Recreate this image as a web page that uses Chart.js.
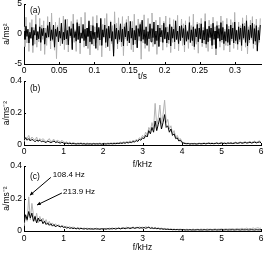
<!DOCTYPE html>
<html>
<head>
<meta charset="utf-8">
<script src="https://cdn.jsdelivr.net/npm/chart.js@4.4.1/dist/chart.umd.min.js"></script>
<style>
  html, body { margin: 0; padding: 0; background: #fff; }
  #wrap { position: relative; width: 266px; height: 253px; }
  #wrap canvas { position: absolute; left: 0; top: 0; }
</style>
</head>
<body>
<div id="wrap">
  <canvas id="chartA" width="266" height="253"></canvas>
  <canvas id="chartB" width="266" height="253"></canvas>
  <canvas id="chartC" width="266" height="253"></canvas>
</div>
<script>
// ---------------------------------------------------------
// Data
// ---------------------------------------------------------
const timeStep = 0.0014;  // s between samples, panel (a)
const freqStep = 0.04;    // kHz between bins, panels (b) and (c)

// (a) acceleration time signal, a/ms^-2
const accelGray = [
  1.2,-2.1,2.8,-1.5,0.6,-2.9,1.9,-0.8,2.4,-3.1,1.1,-1.7,3.2,-2.2,0.4,-1.3,2.6,-2.8,1.5,-0.9,
  2.2,-3.4,1.0,-1.9,2.9,-0.7,1.6,-2.5,3.5,-1.2,0.8,-2.7,2.0,-4.1,1.4,-0.5,2.7,-2.0,1.8,-1.1,
  3.0,-2.6,0.9,-1.8,2.5,-3.0,1.3,-0.6,2.1,-2.3,3.3,-1.4,0.7,-2.9,2.4,-1.0,1.7,-3.3,2.8,-0.8,
  1.1,-2.2,3.6,-1.6,0.5,-2.4,2.0,-3.5,1.5,-0.9,2.9,-2.0,1.2,-1.5,3.1,-2.7,0.8,-1.9,2.3,-3.8,
  1.6,-0.7,2.6,-2.3,3.4,-1.1,0.9,-2.8,2.2,-1.6,1.4,-3.2,3.7,-0.9,1.8,-2.5,2.7,-1.3,0.6,-2.1,
  2.9,-3.6,1.7,-0.8,2.4,-2.0,3.0,-1.4,1.1,-2.6,2.1,-3.0,3.3,-1.7,0.7,-2.2,2.5,-1.1,1.9,-4.2,
  2.0,-1.5,3.2,-2.4,0.9,-1.8,2.6,-2.9,1.4,-0.6,3.5,-2.1,1.6,-1.2,2.3,-3.4,1.0,-2.0,2.8,-1.3,
  1.5,-2.7,2.1,-0.9,3.0,-2.2,1.2,-1.6,2.7,-3.1,0.8,-1.4,2.4,-2.5,1.9,-1.0,3.1,-2.8,1.3,-0.7,
  2.5,-1.9,1.7,-3.0,2.2,-1.2,0.6,-2.4,2.9,-1.5,1.4,-2.0,3.3,-2.6,1.0,-1.7,2.0,-3.2,1.8,-0.9,
  2.6,-2.1,1.1,-1.6,3.4,-2.3,0.9,-2.9,2.3,-1.1,1.6,-2.5,2.8,-1.8,1.2,-3.5,2.1,-0.8,1.5,-2.2,
  3.0,-1.4,2.2,-2.7,0.8,-1.9,2.6,-2.0,1.3,-3.0,2.4,-1.2,1.9,-2.4,3.6,-1.6,0.7,-2.6,2.0,-1.3,
  1.4,-2.8,2.7,-1.0,1.8,-2.2,3.1,-3.3,1.2,-1.5,2.3,-0.9,2.9,-2.4,1.6,-1.8,2.5,-2.9,1.1,-1.4,
  2.6
];
const accelBlack = [
  0.5,-0.9,1.3,-0.4,0.8,-1.5,0.3,-0.7,1.1,-1.9,0.6,-0.2,1.6,-1.0,0.4,-0.8,1.2,-1.4,0.9,-0.3,
  1.0,-1.7,0.2,-0.6,1.4,-0.5,2.0,-1.1,0.7,-0.9,1.5,-2.2,0.8,-0.4,1.1,-1.3,0.5,-0.7,1.8,-1.6,
  0.3,-1.0,2.4,-0.8,0.6,-1.8,1.2,-0.3,0.9,-2.6,1.7,-0.6,0.4,-1.2,1.9,-0.9,1.3,-1.5,0.2,-0.7,
  1.6,-1.1,0.8,-2.0,1.0,-0.4,2.2,-1.3,0.5,-1.7,1.4,-0.8,0.3,-2.4,1.8,-0.6,1.1,-1.0,2.6,-1.9,
  0.7,-0.5,1.5,-1.4,0.9,-2.1,1.3,-0.7,2.0,-1.2,0.4,-3.7,1.6,-0.8,1.0,-1.6,0.6,-0.9,1.7,-1.3,
  0.8,-2.0,1.2,-0.5,1.9,-1.1,0.5,-1.5,2.1,-0.7,1.0,-1.8,0.6,-1.0,1.4,-2.3,0.9,-0.4,1.6,-1.2,
  2.3,-0.9,0.7,-1.6,1.2,-1.9,0.4,-0.8,1.7,-1.3,0.9,-0.6,2.0,-1.7,0.5,-1.1,1.5,-2.1,1.0,-0.5,
  0.6,-1.4,1.8,-0.8,1.1,-1.5,0.3,-1.0,1.6,-2.0,1.2,-0.7,0.8,-1.3,2.2,-0.9,0.5,-1.6,1.3,-1.1,
  1.4,-0.6,0.9,-1.8,1.5,-1.2,0.4,-0.9,1.9,-1.4,0.7,-1.1,1.2,-2.1,0.8,-0.5,1.6,-1.3,1.0,-0.8,
  1.7,-1.5,0.6,-1.0,2.1,-1.7,0.8,-1.3,1.3,-0.6,1.0,-1.9,1.8,-0.9,0.5,-2.4,1.4,-0.7,0.9,-1.2,
  1.9,-1.0,1.1,-1.6,0.4,-1.2,1.6,-1.4,0.8,-1.8,1.5,-0.8,1.0,-1.5,2.0,-1.1,0.6,-1.7,1.2,-0.9,
  1.0,-1.9,1.7,-0.7,1.3,-1.4,2.2,-2.0,0.7,-1.0,1.5,-0.6,1.8,-1.6,0.9,-1.2,1.4,-2.8,0.6,-1.0,
  1.5
];

// (b) amplitude spectrum, 0..6 kHz
const specBGray = [
  0.02,0.05,0.04,0.06,0.03,0.05,0.04,0.03,0.05,0.02,0.04,0.03,0.04,
  0.03,0.02,0.03,0.04,0.02,0.03,0.035,0.02,0.03,0.025,0.02,0.03,0.02,
  0.015,0.02,0.012,0.018,0.01,0.015,0.012,0.008,0.012,0.01,0.014,0.009,0.011,0.008,0.012,0.009,0.01,0.007,0.011,0.008,0.01,0.009,0.012,0.008,0.01,
  0.011,0.009,0.012,0.01,0.013,0.011,0.014,0.012,0.015,0.013,0.018,0.014,0.02,0.016,0.022,0.018,0.025,0.02,0.03,0.024,
  0.035,0.028,0.045,0.04,0.06,
  0.05,0.08,0.06,0.11,0.09,0.14,0.1,0.26,0.12,0.17,0.25,0.13,0.19,0.28,0.14,0.16,0.1,0.12,0.07,0.09,0.05,0.06,0.035,0.04,0.02,
  0.015,0.012,0.01,0.011,0.008,0.01,0.009,0.011,0.008,0.01,
  0.012,0.009,0.011,0.013,0.01,0.012,0.014,0.011,0.013,0.01,
  0.012,0.015,0.011,0.013,0.016,0.012,0.014,0.011,0.015,0.013,
  0.016,0.012,0.014,0.018,0.013,0.016,0.019,0.014,0.017,0.021,
  0.015,0.018,0.022,0.016,0.02,0.024,0.017,0.021,0.026,0.019
];
const specBBlack = [
  0.03,0.045,0.03,0.04,0.025,0.035,0.03,0.02,0.03,0.025,0.03,0.02,0.025,
  0.02,0.015,0.025,0.02,0.015,0.02,0.025,0.015,0.02,0.015,0.012,0.018,0.012,
  0.01,0.012,0.008,0.011,0.007,0.009,0.008,0.006,0.008,0.007,0.009,0.006,0.008,0.005,0.007,0.006,0.007,0.005,0.008,0.006,0.007,0.006,0.008,0.005,0.007,
  0.007,0.006,0.008,0.007,0.009,0.007,0.009,0.008,0.01,0.009,0.012,0.01,0.014,0.011,0.016,0.013,0.018,0.015,0.022,0.018,
  0.028,0.022,0.035,0.03,0.045,
  0.04,0.06,0.05,0.09,0.07,0.11,0.08,0.15,0.09,0.13,0.17,0.1,0.14,0.19,0.11,0.12,0.08,0.1,0.06,0.07,0.04,0.045,0.025,0.03,0.015,
  0.012,0.009,0.008,0.009,0.006,0.008,0.007,0.008,0.006,0.007,
  0.009,0.007,0.008,0.01,0.007,0.009,0.011,0.008,0.01,0.008,
  0.009,0.012,0.008,0.01,0.012,0.009,0.011,0.008,0.012,0.01,
  0.012,0.009,0.011,0.014,0.01,0.012,0.015,0.011,0.013,0.016,
  0.012,0.014,0.017,0.012,0.015,0.018,0.013,0.016,0.019,0.014
];

// (c) amplitude spectrum, 0..6 kHz (tall gray lines at 108.4 Hz and 213.9 Hz)
const specCGray = [
  0.03,0.09,0.06,0.21,0.07,0.17,0.1,0.06,0.11,0.05,0.09,0.06,0.08,
  0.05,0.07,0.04,0.06,0.035,0.05,0.03,0.045,0.03,0.04,0.025,0.035,0.03,
  0.025,0.03,0.02,0.028,0.018,0.025,0.02,0.015,0.022,0.017,0.02,0.014,0.019,0.015,0.018,0.013,0.017,0.012,0.016,0.014,0.018,0.012,0.016,0.013,0.015,
  0.014,0.017,0.012,0.018,0.015,0.02,0.013,0.019,0.016,0.021,0.015,0.022,0.017,0.02,0.024,0.018,0.022,0.019,0.025,0.02,0.023,0.018,0.026,0.021,0.024,
  0.02,0.027,0.022,0.025,0.019,0.024,0.018,0.022,0.016,0.02,0.015,0.018,0.013,0.016,0.012,0.014,0.011,0.013,0.01,0.012,0.009,0.011,0.01,0.012,0.009,
  0.01,0.008,0.011,0.009,0.01,0.008,0.012,0.009,0.01,0.011,
  0.009,0.012,0.01,0.011,0.009,0.013,0.01,0.012,0.009,0.011,
  0.013,0.01,0.012,0.011,0.014,0.01,0.012,0.013,0.011,0.014,
  0.012,0.015,0.011,0.013,0.016,0.012,0.014,0.017,0.013,0.015,
  0.018,0.013,0.016,0.014,0.019,0.015,0.017,0.02,0.016,0.018
];
const specCBlack = [
  0.05,0.1,0.07,0.12,0.08,0.11,0.06,0.09,0.05,0.08,0.06,0.07,0.045,
  0.06,0.04,0.05,0.035,0.045,0.03,0.04,0.025,0.035,0.03,0.025,0.03,0.022,
  0.025,0.018,0.022,0.016,0.02,0.015,0.018,0.013,0.017,0.012,0.016,0.014,0.012,0.015,0.011,0.014,0.012,0.013,0.011,0.014,0.012,0.013,0.01,0.014,0.012,
  0.013,0.011,0.015,0.012,0.014,0.013,0.016,0.012,0.015,0.017,0.013,0.016,0.018,0.014,0.017,0.02,0.015,0.018,0.021,0.016,0.019,0.022,0.017,0.02,0.018,
  0.021,0.017,0.02,0.023,0.016,0.019,0.015,0.018,0.014,0.016,0.012,0.014,0.011,0.012,0.01,0.011,0.009,0.01,0.008,0.009,0.008,0.009,0.007,0.008,0.007,
  0.008,0.006,0.007,0.006,0.008,0.006,0.007,0.006,0.007,0.008,
  0.006,0.007,0.006,0.008,0.007,0.006,0.007,0.008,0.006,0.007,
  0.008,0.006,0.007,0.007,0.008,0.006,0.007,0.008,0.006,0.007,
  0.007,0.008,0.006,0.007,0.008,0.007,0.006,0.008,0.007,0.007,
  0.008,0.006,0.007,0.008,0.007,0.006,0.008,0.007,0.007,0.008
];

// tick labels
const timeTicks = [0, 0.05, 0.1, 0.15, 0.2, 0.25, 0.3];
const freqTicks = [0, 1, 2, 3, 4, 5, 6];
const accelTicks = [-5, 0, 5];
const specTicks = [0, 0.2, 0.4];

const peakLabels = ["108.4 Hz", "213.9 Hz"];

// ---------------------------------------------------------
// Styling helpers
// ---------------------------------------------------------
const FONT = "'Liberation Sans', Arial, Helvetica, sans-serif";
const GRAY = "#b2b2b2";
const tickFont = { family: FONT, size: 8.5 };

const toXY = (vals, step) => vals.map((v, i) => ({ x: i * step, y: v }));
const fmt = v => String(+Number(v).toFixed(2));

// inward ticks, panel letter and (optional) arrows
function overlay(cfg) {
  return {
    id: "overlay",
    afterDraw(chart) {
      const { ctx, chartArea: a, scales: { x, y } } = chart;
      ctx.save();
      ctx.strokeStyle = "#000";
      ctx.fillStyle = "#000";
      ctx.lineWidth = 1;

      ctx.beginPath();
      cfg.xTicks.forEach(v => {
        const px = Math.round(x.getPixelForValue(v)) + 0.5;
        ctx.moveTo(px, a.bottom);
        ctx.lineTo(px, a.bottom - 2);
      });
      cfg.yTicks.forEach(v => {
        const py = Math.round(y.getPixelForValue(v)) + 0.5;
        ctx.moveTo(a.left, py);
        ctx.lineTo(a.left + 2, py);
      });
      ctx.stroke();

      ctx.font = "8.5px " + FONT;
      ctx.textBaseline = "middle";
      ctx.textAlign = "left";
      ctx.fillText(cfg.letter, a.left + 6, a.top + cfg.letterDy);

      ctx.font = "8px " + FONT;
      (cfg.arrows || []).forEach(ar => {
        const x0 = x.getPixelForValue(ar.from[0]), y0 = y.getPixelForValue(ar.from[1]);
        const x1 = x.getPixelForValue(ar.to[0]), y1 = y.getPixelForValue(ar.to[1]);
        ctx.beginPath();
        ctx.moveTo(x0, y0);
        ctx.lineTo(x1, y1);
        ctx.stroke();
        const ang = Math.atan2(y1 - y0, x1 - x0);
        ctx.beginPath();
        ctx.moveTo(x1, y1);
        ctx.lineTo(x1 - 4 * Math.cos(ang - 0.45), y1 - 4 * Math.sin(ang - 0.45));
        ctx.lineTo(x1 - 4 * Math.cos(ang + 0.45), y1 - 4 * Math.sin(ang + 0.45));
        ctx.closePath();
        ctx.fill();
        ctx.fillText(ar.text, x.getPixelForValue(ar.label[0]), y.getPixelForValue(ar.label[1]));
      });
      ctx.restore();
    }
  };
}

function drawPanel(id, cfg) {
  return new Chart(document.getElementById(id), {
    type: "line",
    data: {
      datasets: [
        { data: toXY(cfg.black, cfg.step), borderColor: "#000", borderWidth: 1, pointRadius: 0 },
        { data: toXY(cfg.gray, cfg.step), borderColor: GRAY, borderWidth: 1, pointRadius: 0 }
      ]
    },
    options: {
      responsive: false,
      animation: false,
      events: [],
      devicePixelRatio: 1,
      layout: { padding: { left: 0, right: 5, top: cfg.top, bottom: 253 - cfg.bottom - cfg.xH } },
      plugins: { legend: { display: false }, tooltip: { enabled: false } },
      scales: {
        x: {
          type: "linear", min: 0, max: cfg.xMax,
          afterBuildTicks: s => { s.ticks = cfg.xTicks.map(v => ({ value: v })); },
          afterFit: s => { s.height = cfg.xH; s.paddingLeft = 0; s.paddingRight = 0; },
          ticks: { font: tickFont, color: "#000", padding: cfg.xPad, maxRotation: 0, autoSkip: false, callback: fmt },
          grid: { display: false, drawTicks: false },
          border: { display: true, color: "#000", width: 1 },
          title: { display: true, text: cfg.xTitle, font: tickFont, color: "#000", padding: 0 }
        },
        y: {
          type: "linear", min: cfg.yMin, max: cfg.yMax,
          afterBuildTicks: s => { s.ticks = cfg.yTicks.map(v => ({ value: v })); },
          afterFit: s => { s.width = 24; s.paddingTop = 0; s.paddingBottom = 0; },
          ticks: { font: tickFont, color: "#000", padding: 2, callback: fmt },
          grid: { display: false, drawTicks: false },
          border: { display: true, color: "#000", width: 1 },
          title: { display: true, text: cfg.yTitle, font: tickFont, color: "#000", padding: { top: 2, bottom: 0 } }
        }
      }
    },
    plugins: [overlay(cfg)]
  });
}

// ---------------------------------------------------------
// Panels
// ---------------------------------------------------------
drawPanel("chartA", {
  gray: accelGray, black: accelBlack, step: timeStep,
  xMax: 0.337, xTicks: timeTicks, yMin: -5, yMax: 5, yTicks: accelTicks,
  xTitle: "t/s", yTitle: "a/ms\u00B2", top: 4, bottom: 64, xH: 18, xPad: 2,
  letter: "(a)", letterDy: 7
});

drawPanel("chartB", {
  gray: specBGray, black: specBBlack, step: freqStep,
  xMax: 6, xTicks: freqTicks, yMin: 0, yMax: 0.4, yTicks: specTicks,
  xTitle: "f/kHz", yTitle: "a/ms\u207B\u00B2", top: 81, bottom: 145, xH: 25, xPad: 2,
  letter: "(b)", letterDy: 8
});

drawPanel("chartC", {
  gray: specCGray, black: specCBlack, step: freqStep,
  xMax: 6, xTicks: freqTicks, yMin: 0, yMax: 0.4, yTicks: specTicks,
  xTitle: "f/kHz", yTitle: "a/ms\u207B\u00B2", top: 166, bottom: 231, xH: 22, xPad: 3,
  letter: "(c)", letterDy: 11,
  arrows: [
    { text: peakLabels[0], from: [0.68, 0.33], to: [0.15, 0.22], label: [0.73, 0.345] },
    { text: peakLabels[1], from: [0.96, 0.234], to: [0.33, 0.16], label: [0.99, 0.24] }
  ]
});
</script>
</body>
</html>
